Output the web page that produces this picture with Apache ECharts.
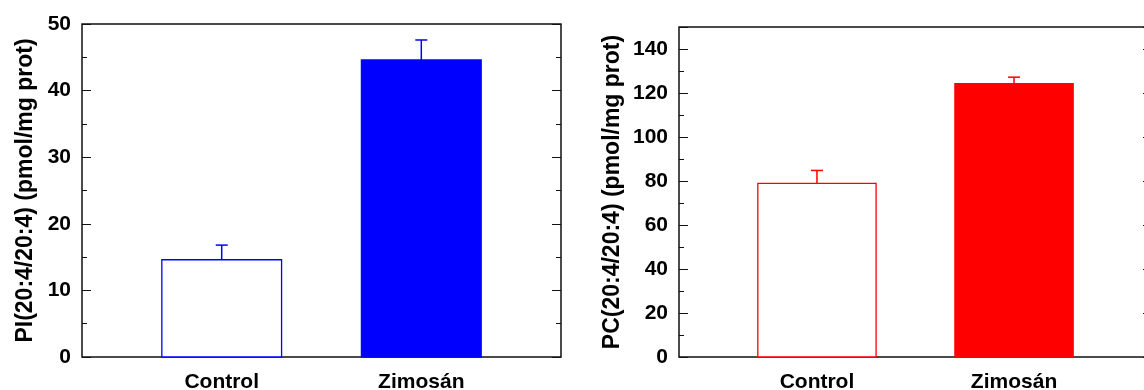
<!DOCTYPE html>
<html>
<head>
<meta charset="utf-8">
<script src="https://cdn.jsdelivr.net/npm/echarts@6/dist/echarts.min.js"></script>
<style>
  html, body { margin: 0; padding: 0; background: #fff; }
  #chart { width: 1144px; height: 390px; }
</style>
</head>
<body>
<div id="chart"></div>
<script>
// Groups on the x axis (placed at x = 1, 2)
const categories = ['Control', 'Zimosán'];

// PI(20:4/20:4), pmol/mg prot: mean and SEM
const piMeans = [14.6, 44.6];
const piErrors = [2.2, 3.0];

// PC(20:4/20:4), pmol/mg prot: mean and SEM
const pcMeans = [78.9, 124.3];
const pcErrors = [5.9, 2.9];

// y axis tick settings
const piTicks = { min: 0, max: 50, interval: 10, showMax: true };
const pcTicks = { min: 0, max: 150, interval: 20, showMax: false };

const FONT = '"Liberation Sans", Arial, Helvetica, sans-serif';
const AXIS_COLOR = '#111';

// Rows for the custom series: [x position, mean, error, filled]
function rows(means, errors) {
  return means.map((m, i) => [i + 1, m, errors[i], i === 1 ? 1 : 0]);
}

// Draws one bar with an upper error whisker
function barRenderer(color) {
  return function (params, api) {
    const x = api.value(0);
    const m = api.value(1);
    const e = api.value(2);
    const filled = api.value(3) === 1;
    const tl = api.coord([x - 0.3, m]);
    const br = api.coord([x + 0.3, 0]);
    const base = api.coord([x, m]);
    const tip = api.coord([x, m + e]);
    return {
      type: 'group',
      children: [
        {
          type: 'rect',
          shape: { x: tl[0], y: tl[1], width: br[0] - tl[0], height: br[1] - tl[1] },
          style: { fill: filled ? color : '#fff', stroke: color, lineWidth: 1.3 }
        },
        {
          type: 'line',
          shape: { x1: base[0], y1: base[1], x2: tip[0], y2: tip[1] },
          style: { stroke: color, lineWidth: 1.5 }
        },
        {
          type: 'line',
          shape: { x1: tip[0] - 6, y1: tip[1], x2: tip[0] + 6, y2: tip[1] },
          style: { stroke: color, lineWidth: 1.5 }
        }
      ]
    };
  };
}

function xAxisFor(gridIndex) {
  return {
    type: 'value',
    gridIndex: gridIndex,
    min: 0.3,
    max: 2.7,
    splitLine: { show: false },
    axisLine: { show: false },
    axisTick: { show: false },
    axisLabel: {
      customValues: categories.map((c, i) => i + 1),
      formatter: v => categories[Math.round(v) - 1] || '',
      fontFamily: FONT,
      fontWeight: 'bold',
      fontSize: 21,
      color: '#000',
      margin: 15
    }
  };
}

function yAxisFor(gridIndex, ticks, position, name, nameGap) {
  const left = position === 'left';
  return {
    type: 'value',
    gridIndex: gridIndex,
    position: position,
    min: ticks.min,
    max: ticks.max,
    interval: ticks.interval,
    name: left ? name : '',
    nameLocation: 'middle',
    nameGap: nameGap,
    nameTextStyle: {
      fontFamily: FONT,
      fontWeight: 'bold',
      fontSize: 23,
      color: '#000'
    },
    splitLine: { show: false },
    axisLine: { show: false },
    axisTick: { show: true, inside: true, length: 9, lineStyle: { color: AXIS_COLOR, width: 1 } },
    minorTick: { show: true, splitNumber: 2, length: 5, lineStyle: { color: AXIS_COLOR, width: 1 } },
    axisLabel: {
      show: left,
      showMaxLabel: ticks.showMax,
      fontFamily: FONT,
      fontWeight: 'bold',
      fontSize: 21,
      color: '#000',
      margin: 11
    }
  };
}

const chart = echarts.init(document.getElementById('chart'), null, { renderer: 'canvas' });

chart.setOption({
  animation: false,
  backgroundColor: '#fff',
  grid: [
    { left: 82, top: 24, width: 479, height: 333, outerBoundsMode: 'none', show: true, borderColor: AXIS_COLOR, borderWidth: 1.5, backgroundColor: 'transparent' },
    { left: 679, top: 27, width: 473, height: 330, outerBoundsMode: 'none', show: true, borderColor: AXIS_COLOR, borderWidth: 1.5, backgroundColor: 'transparent' }
  ],
  xAxis: [xAxisFor(0), xAxisFor(1)],
  yAxis: [
    yAxisFor(0, piTicks, 'left', 'PI(20:4/20:4) (pmol/mg prot)', 45),
    yAxisFor(0, piTicks, 'right', '', 0),
    yAxisFor(1, pcTicks, 'left', 'PC(20:4/20:4) (pmol/mg prot)', 55),
    yAxisFor(1, pcTicks, 'right', '', 0)
  ],
  series: [
    {
      type: 'custom',
      xAxisIndex: 0,
      yAxisIndex: 0,
      renderItem: barRenderer('#0000ff'),
      data: rows(piMeans, piErrors),
      clip: false,
      z: 3
    },
    {
      type: 'custom',
      xAxisIndex: 1,
      yAxisIndex: 2,
      renderItem: barRenderer('#ff0000'),
      data: rows(pcMeans, pcErrors),
      clip: false,
      z: 3
    }
  ]
});
</script>
</body>
</html>
